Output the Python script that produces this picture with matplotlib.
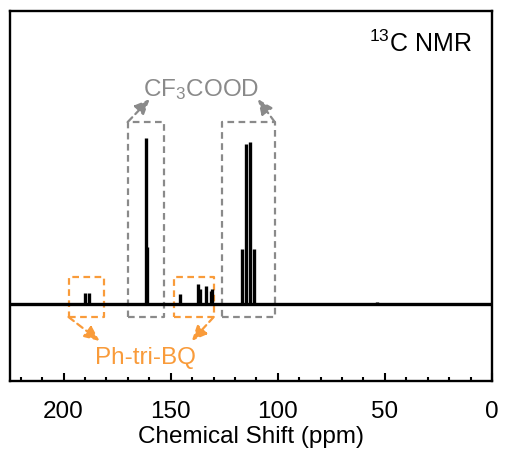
import matplotlib.pyplot as plt
from matplotlib import rcParams

rcParams['font.family'] = 'sans-serif'
rcParams['font.sans-serif'] = ['Liberation Sans', 'DejaVu Sans']
rcParams['mathtext.fontset'] = 'custom'
rcParams['mathtext.rm'] = 'Liberation Sans'

# === Peak list (ppm, relative intensity) ===
peak_ppm = [190.2, 187.9, 161.4, 160.9, 145.8, 137.4, 136.4, 133.3, 131.4, 130.6,
            116.8, 114.9, 113.1, 111.2, 53.7]
peak_int = [0.068, 0.068, 1.025, 0.35, 0.062, 0.123, 0.093, 0.11, 0.08, 0.093,
            0.34, 0.99, 1.0, 0.34, 0.012]

GRAY = '#8a8a8a'
ORANGE = '#f99b3a'

fig = plt.figure(figsize=(5.06, 4.6), dpi=100)
ax = fig.add_axes([0.0198, 0.1696, 0.9526, 0.8044])

ax.axhline(0, color='black', lw=2.4, zorder=3)
ax.vlines(peak_ppm, 0, peak_int, color='black', lw=2.4, zorder=3)

ax.set_xlim(225, 0)
ax.set_ylim(-0.475, 1.809)

# dashed boxes
def dbox(x0, x1, y0, y1, c):
    ax.plot([x0, x1, x1, x0, x0], [y0, y0, y1, y1, y0], ls=(0, (3, 2)),
            color=c, lw=1.6, zorder=2)

dbox(170.1, 153.3, -0.08, 1.123, GRAY)
dbox(126.2, 101.4, -0.08, 1.123, GRAY)
dbox(197.7, 181.3, -0.08, 0.167, ORANGE)
dbox(148.6, 129.9, -0.08, 0.167, ORANGE)

def darrow(tail, head, c):
    ax.annotate('', xy=head, xytext=tail,
                arrowprops=dict(arrowstyle='-|>,head_length=0.9,head_width=0.4',
                                linestyle=(0, (3, 2)), color=c, lw=1.6,
                                shrinkA=0, shrinkB=0))

darrow((170.1, 1.123), (159.8, 1.265), GRAY)
darrow((101.4, 1.123), (109.3, 1.265), GRAY)
darrow((197.7, -0.08), (183.2, -0.228), ORANGE)
darrow((129.9, -0.08), (140.2, -0.228), ORANGE)

ax.text(136, 1.33, r'CF$_3$COOD', color=GRAY, fontsize=17.5, ha='center', va='center')
ax.text(161.7, -0.33, 'Ph-tri-BQ', color=ORANGE, fontsize=17.5, ha='center', va='center')
ax.text(33.2, 1.61, r'$^{13}$C NMR', color='black', fontsize=18, ha='center', va='center')

ax.set_xticks([200, 150, 100, 50, 0])
ax.set_xticks(range(0, 226, 10), minor=True)
ax.set_yticks([])
ax.tick_params(axis='x', which='major', direction='in', length=6, width=1.5,
               labelsize=17.5, pad=14)
ax.tick_params(axis='x', which='minor', direction='in', length=3, width=1.5)
ax.set_xlabel('Chemical Shift (ppm)', fontsize=17.5, labelpad=2)
for s in ax.spines.values():
    s.set_linewidth(1.7)

fig.savefig('out.png', dpi=100)
